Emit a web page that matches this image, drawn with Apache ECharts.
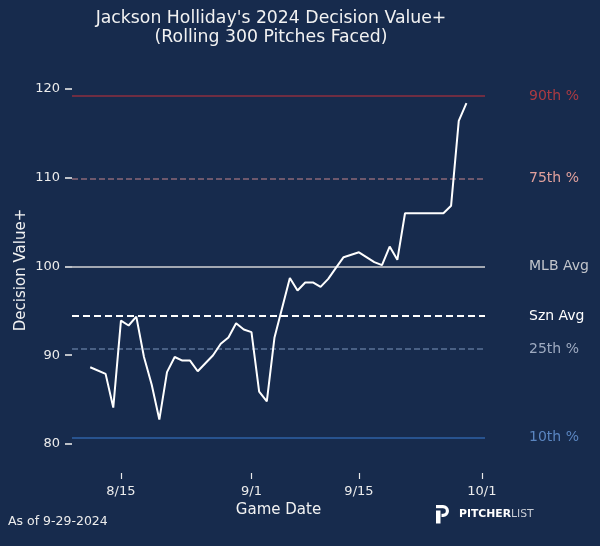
<!DOCTYPE html>
<html>
<head>
<meta charset="utf-8">
<title>Decision Value+</title>
<script src="https://cdn.jsdelivr.net/npm/echarts@6/dist/echarts.min.js"></script>
<style>
  html, body { margin: 0; padding: 0; background: #172b4d; }
  #grafico { width: 600px; height: 546px; }
</style>
</head>
<body>
<div id="grafico"></div>
<script>
// fechas de juego y valor rolling (300 pitches)
var gameDates = ['2024-08-11', '2024-08-13', '2024-08-14', '2024-08-15', '2024-08-16', '2024-08-17',
    '2024-08-18', '2024-08-19', '2024-08-20', '2024-08-21', '2024-08-22', '2024-08-23', '2024-08-24',
    '2024-08-25', '2024-08-26', '2024-08-27', '2024-08-28', '2024-08-29', '2024-08-30', '2024-08-31',
    '2024-09-01', '2024-09-02', '2024-09-03', '2024-09-04', '2024-09-06', '2024-09-07', '2024-09-08',
    '2024-09-09', '2024-09-10', '2024-09-11', '2024-09-12', '2024-09-13', '2024-09-15', '2024-09-17',
    '2024-09-18', '2024-09-19', '2024-09-20', '2024-09-21', '2024-09-26', '2024-09-27', '2024-09-28',
    '2024-09-29'];
var dvValues = [88.65, 87.9, 84.1, 93.9, 93.35, 94.35,
    89.8, 86.7, 82.75, 88.1, 89.8, 89.4, 89.4,
    88.2, 89.1, 90.0, 91.3, 92.0, 93.6, 92.9,
    92.6, 85.9, 84.8, 92.0, 98.7, 97.3, 98.2,
    98.2, 97.7, 98.6, 99.85, 101.05, 101.6, 100.5,
    100.15, 102.25, 100.75, 106.0, 106.0, 106.85, 116.4,
    118.4];

// lineas de referencia
var refLabels = ['90th %', '75th %', 'MLB Avg', 'Szn Avg', '25th %', '10th %'];
var refValues = [119.2, 109.9, 100, 94.4, 90.7, 80.7];

// ticks
var xTickDates = ['2024-08-15', '2024-09-01', '2024-09-15', '2024-10-01'];
var yTicks = [80, 90, 100, 110, 120];

// estilos de cada linea (mismo orden que refLabels)
var refStyles = [
    { line: '#8e2f3f', text: '#ab3a42', type: 'solid', width: 1.6 },
    { line: '#8c6877', text: '#e0a09c', type: [6, 3], width: 1.6 },
    { line: '#a3a8b2', text: '#c3c6cc', type: 'solid', width: 1.8 },
    { line: '#ffffff', text: '#ffffff', type: [7, 4], width: 1.8 },
    { line: '#5b7396', text: '#9eaac0', type: [6, 3], width: 1.6 },
    { line: '#2f62a6', text: '#5a85c0', type: 'solid', width: 1.6 }
];

var fuente = 'DejaVu Sans';

function parseFecha(s) {
    var p = s.split('-');
    return new Date(+p[0], +p[1] - 1, +p[2]).getTime();
}

function initGrafico() {
    var chart = echarts.init(document.getElementById('grafico'));

    var serieData = gameDates.map(function (d, i) {
        return [parseFecha(d), dvValues[i]];
    });

    var markData = refValues.map(function (v, i) {
        var st = refStyles[i];
        return {
            yAxis: v,
            name: refLabels[i],
            lineStyle: { color: st.line, type: st.type, width: st.width },
            label: {
                show: true,
                position: 'end',
                distance: 44,
                formatter: refLabels[i],
                color: st.text,
                fontFamily: fuente,
                fontSize: 14
            }
        };
    });

    var blanco = { fill: '#ffffff' };

    var option = {
        backgroundColor: '#172b4d',
        animation: false,
        title: {
            text: "Jackson Holliday's 2024 Decision Value+\n(Rolling 300 Pitches Faced)",
            left: 266,
            top: 4,
            textAlign: 'center',
            textStyle: {
                color: '#f2f2f2',
                fontFamily: fuente,
                fontWeight: 'normal',
                fontSize: 17.3,
                lineHeight: 19
            }
        },
        grid: {
            left: 72,
            right: 115,
            top: 67,
            bottom: 73
        },
        xAxis: {
            // eje numerico con timestamps, las etiquetas se arman a mano
            type: 'value',
            min: new Date(2024, 7, 8, 15).getTime(),
            max: new Date(2024, 9, 1, 10).getTime(),
            name: 'Game Date',
            nameLocation: 'middle',
            nameGap: 30,
            nameMoveOverlap: false,
            nameTextStyle: { color: '#f2f2f2', fontFamily: fuente, fontSize: 15 },
            axisLine: { show: false },
            splitLine: { show: false },
            axisTick: {
                show: true,
                length: 6,
                customValues: xTickDates.map(parseFecha),
                lineStyle: { color: '#e8e8e8', width: 1.2 }
            },
            axisLabel: {
                customValues: xTickDates.map(parseFecha),
                margin: 12,
                color: '#ececec',
                fontFamily: fuente,
                fontSize: 13,
                formatter: function (v) {
                    var d = new Date(v);
                    return (d.getMonth() + 1) + '/' + d.getDate();
                }
            }
        },
        yAxis: {
            type: 'value',
            min: 76.73,
            max: 122.48,
            name: 'Decision Value+',
            nameLocation: 'middle',
            nameGap: 43,
            nameRotate: 90,
            nameMoveOverlap: false,
            nameTextStyle: { color: '#f2f2f2', fontFamily: fuente, fontSize: 15 },
            axisLine: { show: false },
            splitLine: { show: false },
            axisTick: {
                show: true,
                length: 7,
                customValues: yTicks,
                lineStyle: { color: '#e8e8e8', width: 1.6 }
            },
            axisLabel: {
                customValues: yTicks,
                margin: 12,
                color: '#ececec',
                fontFamily: fuente,
                fontSize: 13
            }
        },
        series: [{
            // solo para las lineas de referencia
            type: 'line',
            data: [],
            z: 1,
            markLine: {
                silent: true,
                symbol: 'none',
                animation: false,
                data: markData
            }
        }, {
            type: 'line',
            data: serieData,
            z: 5,
            showSymbol: false,
            symbol: 'none',
            lineStyle: { color: '#ffffff', width: 2 }
        }],
        graphic: [{
            type: 'text',
            left: 8,
            top: 515,
            style: {
                text: 'As of 9-29-2024',
                fill: '#ececec',
                font: '12.5px "DejaVu Sans"'
            }
        },
        // logo pitcherlist: la P con rects y un sector
        { type: 'rect', shape: { x: 436, y: 505, width: 7, height: 3.2 }, style: blanco },
        { type: 'rect', shape: { x: 436, y: 510.5, width: 4.5, height: 13 }, style: blanco },
        { type: 'rect', shape: { x: 441.5, y: 513.8, width: 1.6, height: 3.2 }, style: blanco },
        {
            type: 'sector',
            shape: { cx: 443, cy: 511, r: 6, r0: 2.8, startAngle: -Math.PI / 2, endAngle: Math.PI / 2, clockwise: true },
            style: blanco
        }, {
            type: 'text',
            left: 459,
            top: 509,
            style: {
                text: '{a|PITCHER}{b|LIST}',
                rich: {
                    a: { fill: '#ffffff', fontFamily: fuente, fontWeight: 'bold', fontSize: 10.8 },
                    b: { fill: '#c8ccd4', fontFamily: fuente, fontSize: 10.8 }
                }
            }
        }]
    };

    chart.setOption(option);
}

initGrafico();
</script>
</body>
</html>
